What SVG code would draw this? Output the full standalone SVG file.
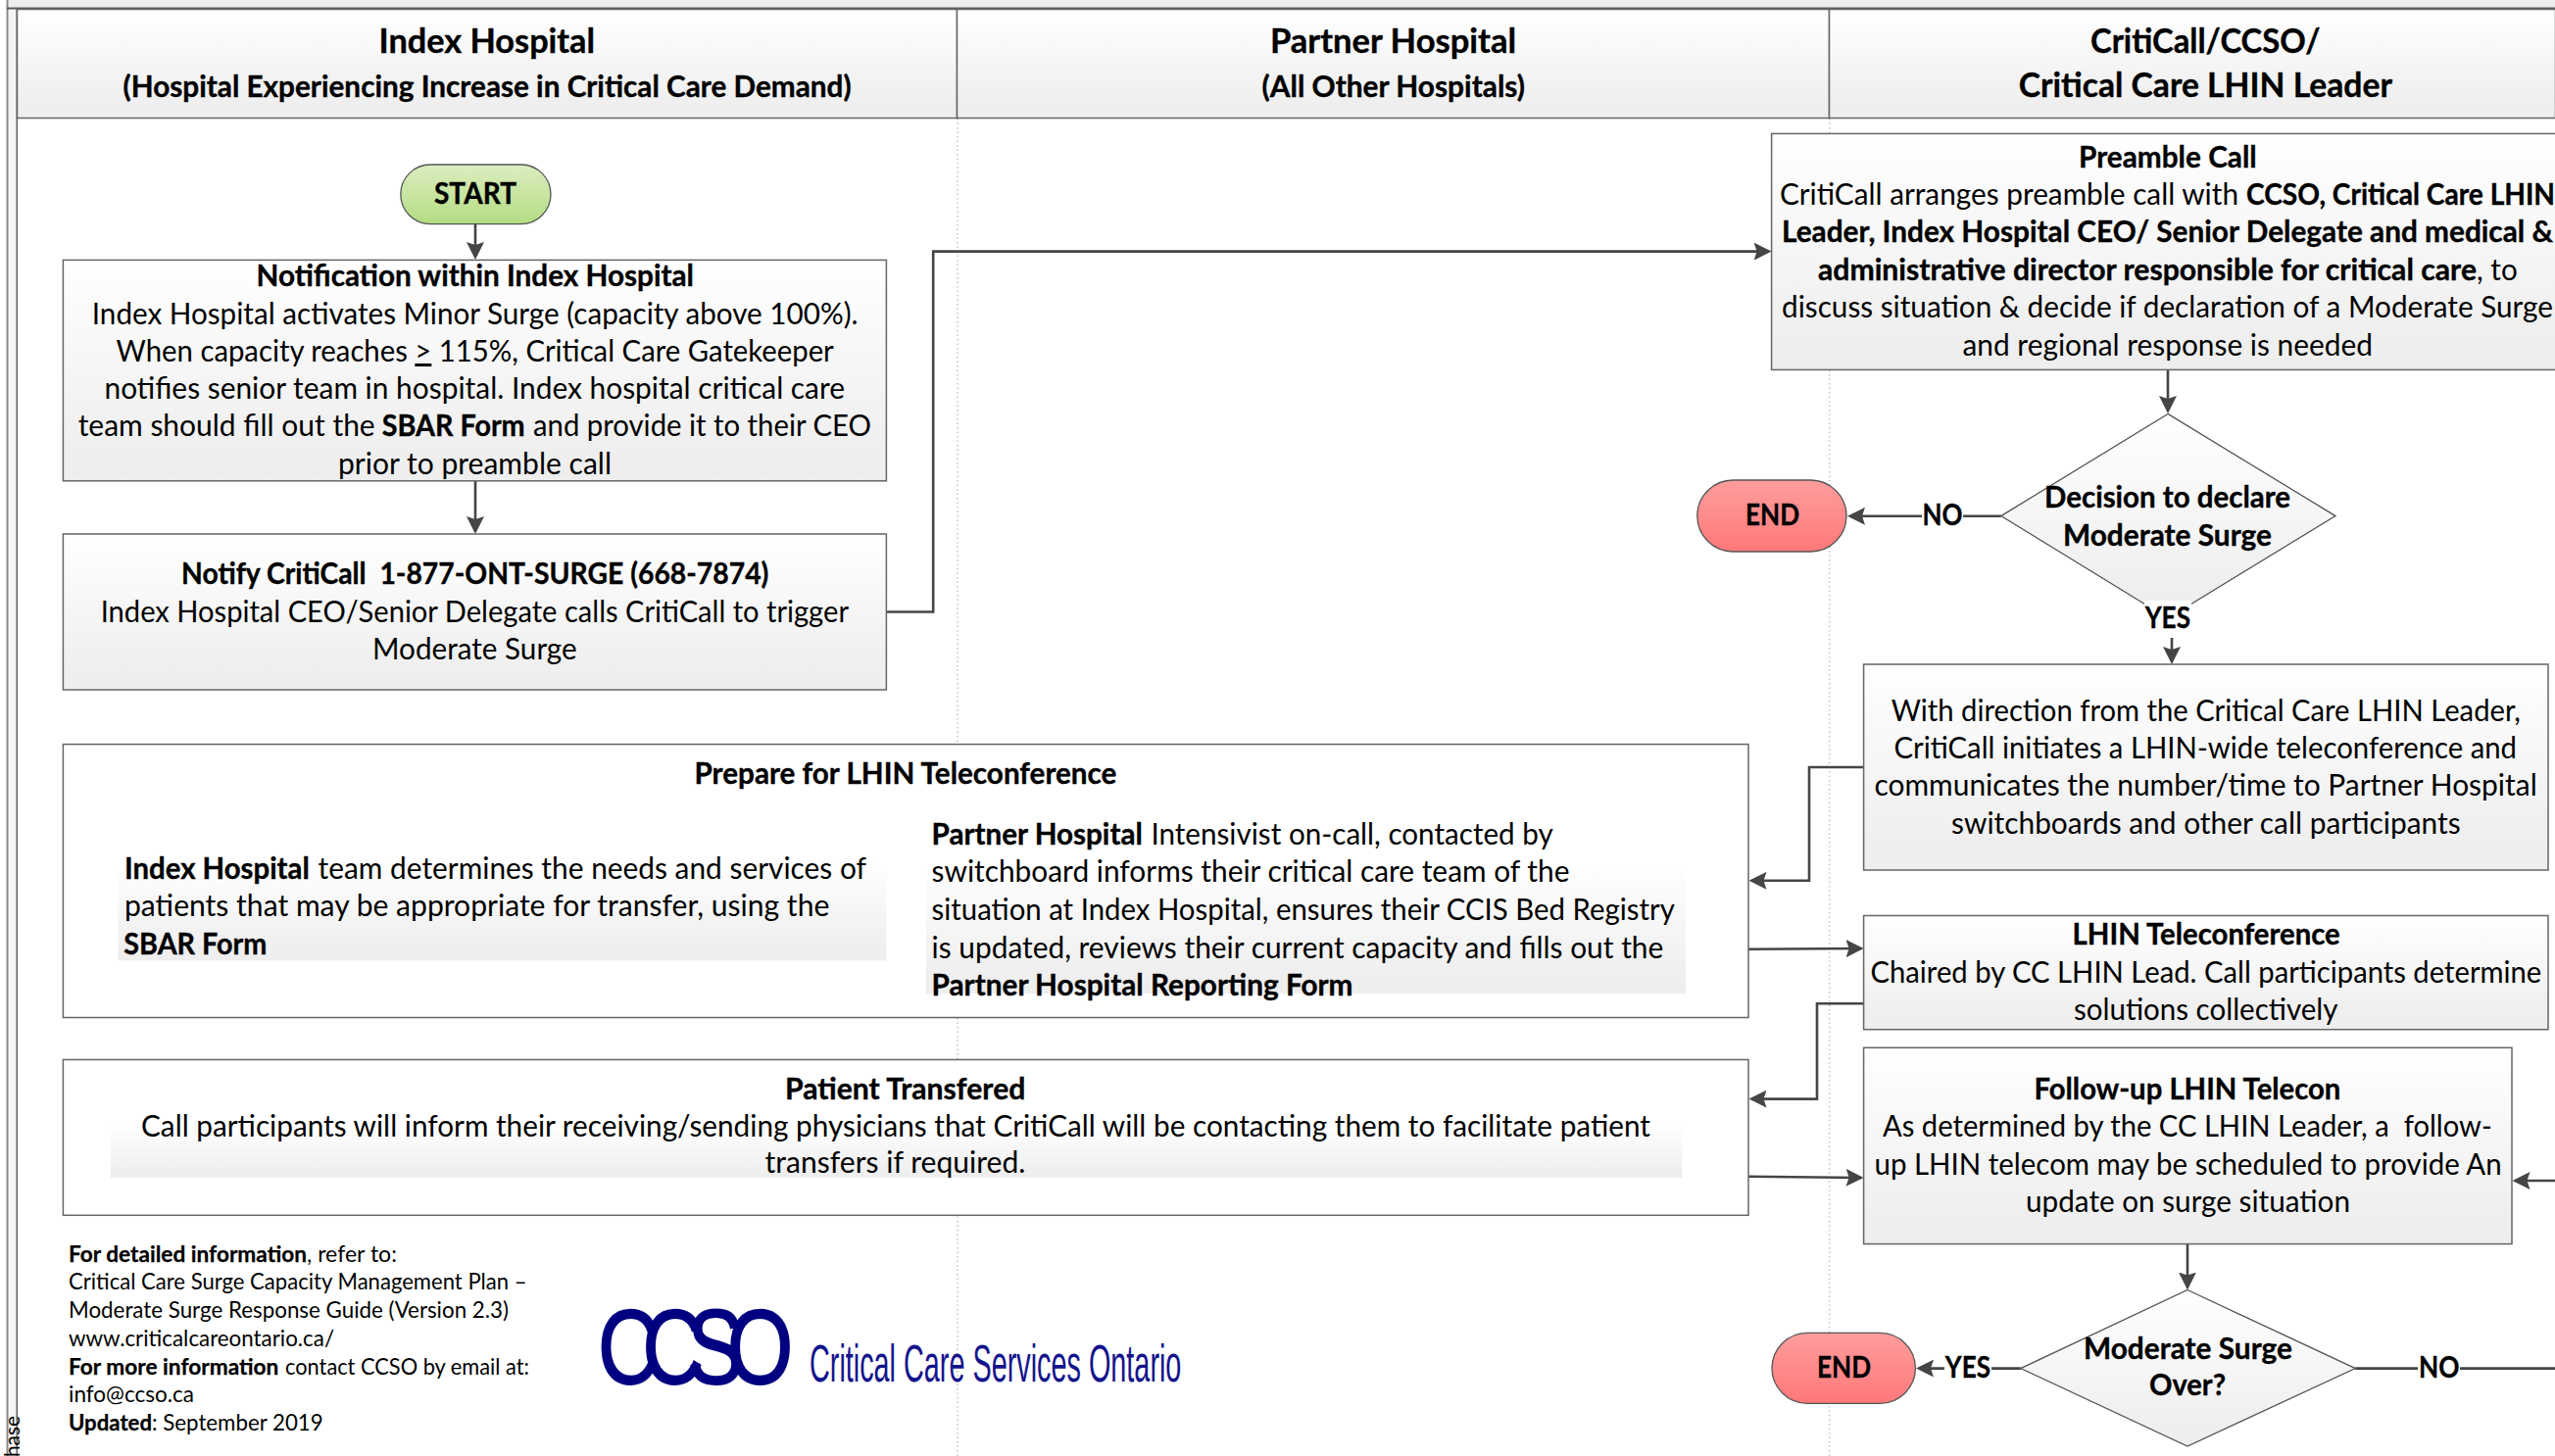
<svg xmlns="http://www.w3.org/2000/svg" width="2607" height="1486" viewBox="0 0 2607 1486">
<style>
text{font-family:"Lato","Liberation Sans",sans-serif;fill:#000;white-space:pre}
.r{font-size:30px}
.b,.r .b{font-size:30px;font-weight:700;stroke:#000;stroke-width:.35}
.h{font-size:33.5px;font-weight:700;stroke:#000;stroke-width:.35}
.s{font-size:30px;font-weight:700;stroke:#000;stroke-width:.35}
.f{font-size:22.5px}
.f .b{font-size:22.5px;font-weight:700;stroke:#000;stroke-width:.25}
.box{fill:url(#g);stroke:#666;stroke-width:1.5}
.plain{fill:#fff;stroke:#666;stroke-width:1.5}
.patch{fill:url(#g)}
.dia{fill:url(#g);stroke:#555;stroke-width:1.3}
.c{fill:none;stroke:#454545;stroke-width:2.6}
.a{marker-end:url(#ah)}
.lane{stroke:#c4c4c4;stroke-width:1.5;stroke-dasharray:1.5 3}
</style>
<defs>
<linearGradient id="g" x1="0" y1="0" x2="0" y2="1"><stop offset="0" stop-color="#fff"/><stop offset=".85" stop-color="#efefef"/><stop offset="1" stop-color="#eee"/></linearGradient>
<linearGradient id="gs" x1="0" y1="0" x2="0" y2="1"><stop offset="0" stop-color="#dcedc0"/><stop offset="1" stop-color="#b3dc82"/></linearGradient>
<linearGradient id="ge" x1="0" y1="0" x2="0" y2="1"><stop offset="0" stop-color="#ff9d9d"/><stop offset="1" stop-color="#ff7878"/></linearGradient>
<marker id="ah" markerUnits="userSpaceOnUse" markerWidth="18" markerHeight="18" refX="15" refY="9" orient="auto"><path d="M0,0L18,9L0,18L3,9z" fill="#454545"/></marker>
</defs>
<rect width="2607" height="1486" fill="#fff"/>
<g id="frame">
<rect x="7" y="0" width="2600" height="8" fill="#eee"/>
<rect x="8" y="9" width="9" height="1477" fill="#f4f4f4"/>
<path d="M7.5 0V1486" stroke="#8a8a8a" stroke-width="2" fill="none"/>
<path d="M17.3 9V1486" stroke="#666" stroke-width="1.6" fill="none"/>
<path d="M7 8.6H2607" stroke="#5a5a5a" stroke-width="2" fill="none"/>
<text transform="translate(19.5 1487) rotate(-90)" font-size="21" textLength="42" lengthAdjust="spacingAndGlyphs">hase</text>
<path class="lane" d="M977 121V1486M1866.6 121V1486"/>
</g>
<g id="header">
<rect class="box" x="17.5" y="9.5" width="959" height="111"/>
<rect class="box" x="976.5" y="9.5" width="890" height="111"/>
<rect class="box" x="1866.5" y="9.5" width="741" height="111"/>
<text class="h" x="386.5" y="54" textLength="220.5" lengthAdjust="spacingAndGlyphs">Index Hospital</text>
<text class="s" x="125.6" y="98.7" textLength="743" lengthAdjust="spacingAndGlyphs">(Hospital Experiencing Increase in Critical Care Demand)</text>
<text class="h" x="1296" y="54" textLength="251" lengthAdjust="spacingAndGlyphs">Partner Hospital</text>
<text class="s" x="1287.6" y="98.7" textLength="268.4" lengthAdjust="spacingAndGlyphs">(All Other Hospitals)</text>
<text class="h" x="2133" y="54" textLength="234.5" lengthAdjust="spacingAndGlyphs">CritiCall/CCSO/</text>
<text class="h" x="2059.7" y="98.7" textLength="381.3" lengthAdjust="spacingAndGlyphs">Critical Care LHIN Leader</text>
</g>
<g id="connectors">
<path class="c a" d="M485 228V262"/>
<path class="c a" d="M485 491V542"/>
<path class="c a" d="M904 624.5H952.2V256.6H1804.6"/>
<path class="c a" d="M2212 377V419"/>
<path class="c a" d="M2041.8 526.8H1888"/>
<path class="c a" d="M2216 651V675"/>
<path class="c a" d="M1901.6 783H1846V898.8H1787.5"/>
<path class="c a" d="M1784 968.7L1898.6 968"/>
<path class="c a" d="M1901.6 1024.3H1854V1121.6H1787.5"/>
<path class="c a" d="M1784 1200.7L1898.6 1202"/>
<path class="c a" d="M2607 1205H2566.5"/>
<path class="c a" d="M2232 1270V1313.5"/>
<path class="c a" d="M2061.8 1396.6H1958"/>
<path class="c" d="M2403.3 1396.6H2607"/>
</g>
<g id="start">
<rect x="408.8" y="168" width="153.2" height="60.6" rx="30.3" fill="url(#gs)" stroke="#555" stroke-width="1.3"/>
<text class="b" x="443" y="208" textLength="84" lengthAdjust="spacingAndGlyphs">START</text>
</g>
<g id="notification">
<rect class="box" x="64.4" y="265.4" width="840" height="225.4"/>
<text class="b" x="261.5" y="291.5" textLength="446.5" lengthAdjust="spacingAndGlyphs">Notification within Index Hospital</text>
<text class="r" x="93.8" y="330.6" textLength="781.8" lengthAdjust="spacingAndGlyphs">Index Hospital activates Minor Surge (capacity above 100%).</text>
<text class="r" x="118.6" y="369" textLength="732.2" lengthAdjust="spacingAndGlyphs">When capacity reaches <tspan text-decoration="underline">&gt;</tspan> 115%, Critical Care Gatekeeper</text>
<text class="r" x="106.5" y="407" textLength="755.5" lengthAdjust="spacingAndGlyphs">notifies senior team in hospital. Index hospital critical care</text>
<text class="r" y="445.4"><tspan x="79.7" textLength="303" lengthAdjust="spacingAndGlyphs">team should fill out the</tspan><tspan class="b" x="389.7" textLength="146" lengthAdjust="spacingAndGlyphs">SBAR Form</tspan><tspan x="544" textLength="345" lengthAdjust="spacingAndGlyphs">and provide it to their CEO</tspan></text>
<text class="r" x="345" y="483.5" textLength="279" lengthAdjust="spacingAndGlyphs">prior to preamble call</text>
</g>
<g id="notify">
<rect class="box" x="64.4" y="545" width="840" height="159"/>
<text class="b" x="185" y="595.5" textLength="599.4" lengthAdjust="spacingAndGlyphs">Notify CritiCall  1-877-ONT-SURGE (668-7874)</text>
<text class="r" x="102.7" y="634.5" textLength="763.3" lengthAdjust="spacingAndGlyphs">Index Hospital CEO/Senior Delegate calls CritiCall to trigger</text>
<text class="r" x="380" y="672.6" textLength="208.7" lengthAdjust="spacingAndGlyphs">Moderate Surge</text>
</g>
<g id="preamble">
<rect class="box" x="1807.6" y="136.4" width="809" height="241"/>
<text class="b" x="2121" y="170.8" textLength="181.7" lengthAdjust="spacingAndGlyphs">Preamble Call</text>
<text class="r" y="209"><tspan x="1816" textLength="468" lengthAdjust="spacingAndGlyphs">CritiCall arranges preamble call with</tspan><tspan class="b" x="2292" textLength="315" lengthAdjust="spacingAndGlyphs">CCSO, Critical Care LHIN</tspan></text>
<text class="b" x="1818" y="247" textLength="787" lengthAdjust="spacingAndGlyphs">Leader, Index Hospital CEO/ Senior Delegate and medical &amp;</text>
<text class="r" y="285.6"><tspan class="b" x="1855" textLength="672" lengthAdjust="spacingAndGlyphs">administrative director responsible for critical care</tspan><tspan x="2527" textLength="41.7" lengthAdjust="spacingAndGlyphs">, to</tspan></text>
<text class="r" x="1818" y="324" textLength="787" lengthAdjust="spacingAndGlyphs">discuss situation &amp; decide if declaration of a Moderate Surge</text>
<text class="r" x="2002.5" y="362.7" textLength="418.5" lengthAdjust="spacingAndGlyphs">and regional response is needed</text>
</g>
<g id="decision-declare">
<path class="dia" d="M2212 422.4L2383 526.6L2212 631L2041.8 526.6Z"/>
<text class="b" x="2086" y="517.5" textLength="251" lengthAdjust="spacingAndGlyphs">Decision to declare</text>
<text class="b" x="2105" y="556.5" textLength="213" lengthAdjust="spacingAndGlyphs">Moderate Surge</text>
</g>
<g id="label-yes-1">
<rect x="2188" y="613" width="48" height="38" fill="#fff"/>
<text class="b" x="2188.7" y="640.5" textLength="46.3" lengthAdjust="spacingAndGlyphs">YES</text>
</g>
<g id="label-no-1">
<rect x="1961" y="512" width="42" height="30" fill="#fff"/>
<text class="b" x="1961.4" y="535.8" textLength="41" lengthAdjust="spacingAndGlyphs">NO</text>
</g>
<g id="end-1">
<rect x="1731.8" y="490" width="152.2" height="73" rx="36.5" fill="url(#ge)" stroke="#555" stroke-width="1.3"/>
<text class="b" x="1781" y="536" textLength="55" lengthAdjust="spacingAndGlyphs">END</text>
</g>
<g id="direction">
<rect class="box" x="1901.6" y="678" width="698.4" height="210"/>
<text class="r" x="1929.7" y="735.6" textLength="642.3" lengthAdjust="spacingAndGlyphs">With direction from the Critical Care LHIN Leader,</text>
<text class="r" x="1932.6" y="773.7" textLength="635.4" lengthAdjust="spacingAndGlyphs">CritiCall initiates a LHIN-wide teleconference and</text>
<text class="r" x="1912.5" y="811.8" textLength="676.2" lengthAdjust="spacingAndGlyphs">communicates the number/time to Partner Hospital</text>
<text class="r" x="1991" y="851" textLength="519.7" lengthAdjust="spacingAndGlyphs">switchboards and other call participants</text>
</g>
<g id="prepare">
<rect class="plain" x="64.4" y="759.6" width="1719.6" height="278.9"/>
<rect class="patch" x="120.5" y="880" width="783.8" height="100.4"/>
<rect class="patch" x="944.8" y="880" width="775.2" height="134"/>
<text class="b" x="708.5" y="799.6" textLength="430.9" lengthAdjust="spacingAndGlyphs">Prepare for LHIN Teleconference</text>
<text class="r" y="896.8"><tspan class="b" x="127" textLength="188.7" lengthAdjust="spacingAndGlyphs">Index Hospital</tspan><tspan x="324.6" textLength="559.4" lengthAdjust="spacingAndGlyphs">team determines the needs and services of</tspan></text>
<text class="r" x="127" y="935" textLength="719.3" lengthAdjust="spacingAndGlyphs">patients that may be appropriate for transfer, using the</text>
<text class="b" x="126.3" y="974" textLength="146" lengthAdjust="spacingAndGlyphs">SBAR Form</text>
<text class="r" y="862"><tspan class="b" x="950.5" textLength="215.3" lengthAdjust="spacingAndGlyphs">Partner Hospital</tspan><tspan x="1174.4" textLength="410.4" lengthAdjust="spacingAndGlyphs">Intensivist on-call, contacted by</tspan></text>
<text class="r" x="950.5" y="900.3" textLength="651" lengthAdjust="spacingAndGlyphs">switchboard informs their critical care team of the</text>
<text class="r" x="950.5" y="939.3" textLength="758.3" lengthAdjust="spacingAndGlyphs">situation at Index Hospital, ensures their CCIS Bed Registry</text>
<text class="r" x="950.5" y="977.5" textLength="746.8" lengthAdjust="spacingAndGlyphs">is updated, reviews their current capacity and fills out the</text>
<text class="b" x="950.5" y="1015.5" textLength="430" lengthAdjust="spacingAndGlyphs">Partner Hospital Reporting Form</text>
</g>
<g id="lhin-teleconference">
<rect class="box" x="1901.6" y="934.5" width="698.4" height="116.2"/>
<text class="b" x="2114.6" y="963.8" textLength="273.2" lengthAdjust="spacingAndGlyphs">LHIN Teleconference</text>
<text class="r" x="1908.5" y="1002.9" textLength="684.8" lengthAdjust="spacingAndGlyphs">Chaired by CC LHIN Lead. Call participants determine</text>
<text class="r" x="2116" y="1041" textLength="269.5" lengthAdjust="spacingAndGlyphs">solutions collectively</text>
</g>
<g id="transfer">
<rect class="plain" x="64.4" y="1081.5" width="1719.6" height="158.8"/>
<rect class="patch" x="112.9" y="1148" width="1603.4" height="54"/>
<text class="b" x="801" y="1121.6" textLength="245.4" lengthAdjust="spacingAndGlyphs">Patient Transfered</text>
<text class="r" x="144" y="1159.7" textLength="1540" lengthAdjust="spacingAndGlyphs">Call participants will inform their receiving/sending physicians that CritiCall will be contacting them to facilitate patient</text>
<text class="r" x="780.6" y="1197.3" textLength="265.8" lengthAdjust="spacingAndGlyphs">transfers if required.</text>
</g>
<g id="followup">
<rect class="box" x="1901.6" y="1069.3" width="661.4" height="200.3"/>
<text class="b" x="2075.5" y="1121.6" textLength="312.9" lengthAdjust="spacingAndGlyphs">Follow-up LHIN Telecon</text>
<text class="r" x="1921" y="1160" textLength="621.8" lengthAdjust="spacingAndGlyphs">As determined by the CC LHIN Leader, a  follow-</text>
<text class="r" x="1912.5" y="1198.7" textLength="640.1" lengthAdjust="spacingAndGlyphs">up LHIN telecom may be scheduled to provide An</text>
<text class="r" x="2067" y="1236.8" textLength="331" lengthAdjust="spacingAndGlyphs">update on surge situation</text>
</g>
<g id="decision-over">
<path class="dia" d="M2232 1316.5L2403.3 1396.6L2232 1476L2061.8 1396.6Z"/>
<text class="b" x="2126" y="1386.8" textLength="213" lengthAdjust="spacingAndGlyphs">Moderate Surge</text>
<text class="b" x="2193" y="1424.4" textLength="78" lengthAdjust="spacingAndGlyphs">Over?</text>
</g>
<g id="label-yes-2">
<rect x="1984" y="1382" width="48" height="30" fill="#fff"/>
<text class="b" x="1984.8" y="1406" textLength="46.2" lengthAdjust="spacingAndGlyphs">YES</text>
</g>
<g id="label-no-2">
<rect x="2467" y="1382" width="43" height="30" fill="#fff"/>
<text class="b" x="2468" y="1406" textLength="41.5" lengthAdjust="spacingAndGlyphs">NO</text>
</g>
<g id="end-2">
<rect x="1808" y="1360.4" width="146.4" height="71.9" rx="36" fill="url(#ge)" stroke="#555" stroke-width="1.3"/>
<text class="b" x="1854" y="1406" textLength="55" lengthAdjust="spacingAndGlyphs">END</text>
</g>
<g id="footer">
<text class="f" y="1287.7"><tspan class="b" x="70" textLength="243" lengthAdjust="spacingAndGlyphs">For detailed information</tspan><tspan x="313" textLength="92" lengthAdjust="spacingAndGlyphs">, refer to:</tspan></text>
<text class="f" x="70" y="1316" textLength="467.6" lengthAdjust="spacingAndGlyphs">Critical Care Surge Capacity Management Plan –</text>
<text class="f" x="70" y="1344.8" textLength="449" lengthAdjust="spacingAndGlyphs">Moderate Surge Response Guide (Version 2.3)</text>
<text class="f" x="70" y="1373.6" textLength="271" lengthAdjust="spacingAndGlyphs">www.criticalcareontario.ca/</text>
<text class="f" y="1402.5"><tspan class="b" x="70" textLength="214.4" lengthAdjust="spacingAndGlyphs">For more information</tspan><tspan x="291" textLength="249" lengthAdjust="spacingAndGlyphs">contact CCSO by email at:</tspan></text>
<text class="f" x="70" y="1431" textLength="128" lengthAdjust="spacingAndGlyphs">info@ccso.ca</text>
<text class="f" y="1459.6"><tspan class="b" x="70" textLength="85" lengthAdjust="spacingAndGlyphs">Updated</tspan><tspan x="155" textLength="174.7" lengthAdjust="spacingAndGlyphs">: September 2019</tspan></text>
</g>
<g id="logo">
<text transform="translate(610 1412) scale(.8 1)" style="font-family:'Liberation Sans',sans-serif;font-size:108px;letter-spacing:-21px;fill:#000080;stroke:#000080;stroke-width:2">CCSO</text>
<text x="826" y="1409.8" textLength="379.4" lengthAdjust="spacingAndGlyphs" style="font-family:'Liberation Sans',sans-serif;font-size:53px;fill:#14148c">Critical Care Services Ontario</text>
</g>
</svg>
